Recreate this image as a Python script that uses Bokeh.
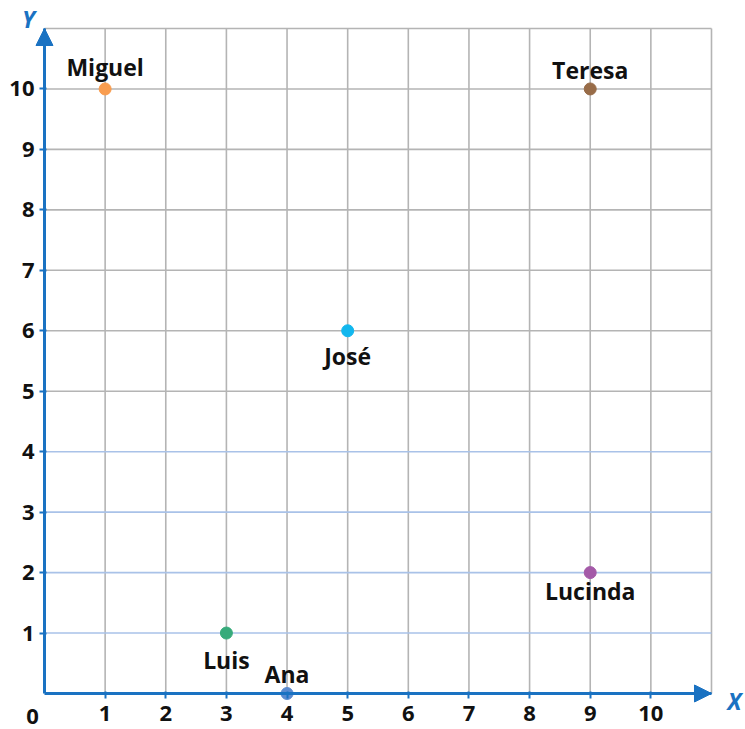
from bokeh.plotting import figure
from bokeh.models import Range1d, FixedTicker, Arrow, NormalHead, LinearAxis, ColumnDataSource
from bokeh.core.properties import value
from bokeh.embed import file_html
from bokeh.resources import INLINE

# ---- data ----
names = ["Miguel", "Teresa", "José", "Lucinda", "Luis", "Ana"]
xs = [1, 9, 5, 9, 3, 4]
ys = [10, 10, 6, 2, 1, 0]
colors = ["#f99d4f", "#986c48", "#12b7ee", "#a45aa8", "#37ab7b", "#5b8bd0"]
x_ticks = [1, 2, 3, 4, 5, 6, 7, 8, 9, 10]
y_ticks = [1, 2, 3, 4, 5, 6, 7, 8, 9, 10]
grid_cols = [1, 2, 3, 4, 5, 6, 7, 8, 9, 10, 11]
gray_rows = [5, 6, 7, 8, 9, 10, 11]
blue_rows = [1, 2, 3, 4]
axis_max = 11

# ---- styles ----
label_dy = [-22, -19, 25, 18, 27, -19]  # pixel offsets of name labels
BLUE = "#1a72c2"
GRAY = "#b4b4b4"
LIGHTBLUE = "#a9c2e8"
FONT = value("Open Sans")

p = figure(width=745, height=729,
           x_range=Range1d(-0.7256, 11.5608), y_range=Range1d(-0.5955, 11.4632),
           output_backend="svg", toolbar_location=None,
           x_axis_location=None, y_axis_location=None,
           min_border=0)
p.outline_line_color = None
p.xgrid.visible = False
p.ygrid.visible = False

# grid lines
p.segment(x0=grid_cols, y0=[0] * len(grid_cols), x1=grid_cols, y1=[axis_max] * len(grid_cols),
          line_color=GRAY, line_width=1.6)
p.segment(x0=[0] * len(blue_rows), y0=blue_rows, x1=[axis_max] * len(blue_rows), y1=blue_rows,
          line_color=LIGHTBLUE, line_width=1.6)
p.segment(x0=[0] * len(gray_rows), y0=gray_rows, x1=[axis_max] * len(gray_rows), y1=gray_rows,
          line_color=GRAY, line_width=1.6)

# axes at the origin
def style_axis(ax):
    ax.axis_line_color = BLUE
    ax.axis_line_width = 3
    ax.major_tick_line_color = BLUE
    ax.major_tick_line_width = 2
    ax.major_tick_in = 2
    ax.major_tick_out = 5
    ax.minor_tick_line_color = None
    ax.major_label_text_font = "Open Sans"
    ax.major_label_text_font_style = "bold"
    ax.major_label_text_font_size = "22px"
    ax.major_label_text_color = "#111111"
    ax.bounds = (0, axis_max)

xax = LinearAxis(fixed_location=0, ticker=FixedTicker(ticks=x_ticks))
style_axis(xax)
xax.major_label_standoff = 8
yax = LinearAxis(fixed_location=0, ticker=FixedTicker(ticks=y_ticks))
style_axis(yax)
yax.major_label_standoff = 5
p.add_layout(xax, "below")
p.add_layout(yax, "left")

# arrow heads
p.add_layout(Arrow(end=NormalHead(size=17, fill_color=BLUE, line_color=BLUE),
                   x_start=0, y_start=0, x_end=axis_max, y_end=0, line_alpha=0))
p.add_layout(Arrow(end=NormalHead(size=17, fill_color=BLUE, line_color=BLUE),
                   x_start=0, y_start=0, x_end=0, y_end=axis_max, line_alpha=0))

# axis names and origin
p.text(x=[11.379], y=[-0.132], text=["X"], text_font=FONT, text_font_style="bold italic",
       text_font_size="23px", text_color=BLUE, text_align="center", text_baseline="middle")
p.text(x=[-0.264], y=[11.165], text=["Y"], text_font=FONT, text_font_style="bold italic",
       text_font_size="23px", text_color=BLUE, text_align="center", text_baseline="middle")
p.text(x=[-0.198], y=[-0.38], text=["0"], text_font=FONT, text_font_style="bold",
       text_font_size="22px", text_color="#111111", text_align="center", text_baseline="middle")

# points and names
src = ColumnDataSource(dict(x=xs, y=ys, name=names, color=colors, dy=label_dy))
p.scatter("x", "y", source=src, size=12, fill_color="color", line_color="color")
p.text("x", "y", text="name", source=src, y_offset="dy", text_font=FONT, text_font_style="bold",
       text_font_size="23px", text_color="#111111", text_align="center", text_baseline="middle")

open("out.html", "w").write(file_html(p, INLINE))
